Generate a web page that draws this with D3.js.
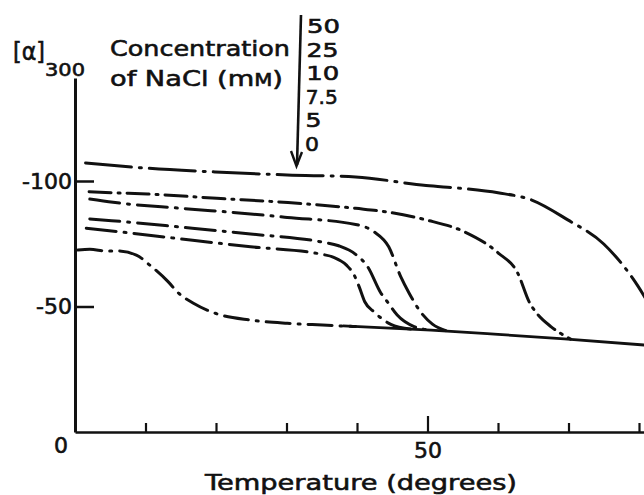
<!DOCTYPE html>
<html>
<head>
<meta charset="utf-8">
<script src="https://cdn.jsdelivr.net/npm/d3@7"></script>
<style>
  body { margin: 0; background: #fff; }
  svg { display: block; }
  text { font-family: "DejaVu Sans", sans-serif; fill: #111; stroke: #111; stroke-width: 0.6px; }
</style>
</head>
<body>
<script>
const w = 644;
const h = 495;

// NaCl concentrations (mM), top curve first
const concLabels = ["50", "25", "10", "7.5", "5", "0"];

// [temperature, [alpha]300]
const c50 = [[1.5, -107.2], [10.2, -105.1], [19.9, -103.6], [30.1, -102.4], [39.8, -101.6],
    [49.8, -98.2], [55.0, -97.0], [60.0, -95.3], [64.8, -92.4], [69.9, -84.5],
    [75.0, -74.9], [79.9, -57.9], [81.5, -50.5]];
const c25 = [[2.0, -95.7], [5.2, -95.3], [10.3, -94.8], [20.1, -93.1], [30.2, -91.4],
    [39.8, -89.1], [44.9, -87.4], [49.8, -84.5], [55.2, -79.8], [60.0, -71.4],
    [62.8, -63.3], [64.5, -51.4], [65.5, -47.3], [67.5, -42.0], [70.3, -37.0]];
const c10 = [[2.1, -92.8], [5.4, -91.5], [15.1, -89.1], [24.9, -86.9], [30.1, -85.5],
    [39.8, -82.7], [42.4, -79.8], [44.5, -73.8], [46.2, -61.9], [47.4, -55.3],
    [49.0, -47.9], [50.7, -43.0], [52.6, -40.4]];
const c7_5 = [[2.1, -84.9], [5.2, -84.2], [15.1, -81.6], [24.9, -78.9], [34.8, -75.8],
    [37.4, -74.2], [39.8, -70.8], [41.5, -65.9], [43.4, -55.3], [44.3, -51.9],
    [45.7, -46.6], [48.1, -42.0], [50.5, -40.6]];
const c5 = [[1.6, -81.2], [5.2, -80.1], [15.1, -76.9], [24.9, -73.8], [34.8, -70.9],
    [36.7, -69.6], [38.5, -66.5], [39.6, -62.5], [40.3, -57.9], [41.1, -51.9],
    [42.4, -47.9], [44.8, -42.9], [47.6, -41.0]];
const c0 = [[0.4, -72.5], [2.1, -72.8], [4.5, -72.1], [6.1, -72.1], [8.7, -70.5],
    [10.6, -66.5], [13.2, -59.9], [14.7, -55.3], [16.8, -51.3], [19.9, -47.3],
    [24.9, -44.6], [30.1, -43.3], [35.1, -42.6], [39.8, -42.0]];
// common solid line the melted forms fall onto
const base = [[38.0, -42.3], [50.5, -40.6], [60.0, -38.9], [69.4, -37.1], [81.5, -34.5]];

const xTicks = [10, 20, 30, 40, 50, 60, 70, 80];
const yTicks = [-100, -50];

const curves = [c50, c25, c10, c7_5, c5, c0];
const dashes = ["46,8,2,8", "22,7,2,7", "30,8,2,8", "30,8,2,8", "30,8,2,8", "24,8,2,8"];

const svg = d3.select("body")
    .append("svg")
    .attr("width", w)
    .attr("height", h)
    ;

const x = d3.scaleLinear()
    .domain([0, 80])
    .range([75, 639])
    ;
const y = d3.scaleLinear()
    .domain([0, -100])
    .range([432, 181])
    ;

function fit(sel, width) {
    sel.attr("textLength", width).attr("lengthAdjust", "spacingAndGlyphs");
}

// y axis, ticks pointing inward
const yAxisScale = y.copy().domain([0, -141]).range([y(0), y(-141)]);
const gy = svg.append("g")
    .attr("transform", "translate(" + x(0) + ",0)")
    .call(d3.axisLeft(yAxisScale).tickValues(yTicks).tickSize(-19).tickSizeOuter(0).tickPadding(3).tickFormat(d => d))
    ;
gy.select(".domain").attr("stroke", "#111").attr("stroke-width", 3);
gy.selectAll(".tick line").attr("stroke", "#111").attr("stroke-width", 2.5);
gy.selectAll(".tick text").attr("font-size", 22).attr("font-family", "DejaVu Sans").attr("fill", "#111");

// x axis
const xAxisScale = x.copy().domain([0, 82]).range([x(0), x(82)]);
const gx = svg.append("g")
    .attr("transform", "translate(0," + y(0) + ")")
    .call(d3.axisBottom(xAxisScale).tickValues(xTicks).tickSize(-9).tickSizeOuter(0).tickPadding(10)
        .tickFormat(d => d === 50 ? "50" : ""))
    ;
gx.select(".domain").attr("stroke", "#111").attr("stroke-width", 2.5);
gx.selectAll(".tick line").attr("stroke", "#111").attr("stroke-width", 2.2)
    .attr("y2", d => d === 50 ? -16 : -9);
gx.selectAll(".tick text").attr("font-size", 22).attr("font-family", "DejaVu Sans").attr("fill", "#111")
    .call(fit, 28);

svg.append("text")
    .attr("x", x(0) - 14)
    .attr("y", 453)
    .attr("text-anchor", "middle")
    .attr("font-size", 22)
    .text("0");

svg.append("text")
    .attr("x", 205)
    .attr("y", 490)
    .attr("font-size", 22)
    .text("Temperature (degrees)")
    .call(fit, 312);

// curves
const line = d3.line()
    .x(d => x(d[0]))
    .y(d => y(d[1]))
    .curve(d3.curveMonotoneX)
    ;

svg.append("g")
    .selectAll("path")
    .data(curves)
    .join("path")
    .attr("d", line)
    .attr("fill", "none")
    .attr("stroke", "#111")
    .attr("stroke-width", 3)
    .attr("stroke-linecap", "round")
    .attr("stroke-dasharray", (d, i) => dashes[i])
    ;

svg.append("path")
    .attr("d", line(base))
    .attr("fill", "none")
    .attr("stroke", "#111")
    .attr("stroke-width", 2.8);

// y label
svg.append("text")
    .attr("x", 13)
    .attr("y", 60)
    .attr("font-size", 25)
    .text("[α]")
    .call(fit, 32);
svg.append("text")
    .attr("x", 45)
    .attr("y", 76)
    .attr("font-size", 18)
    .text("300")
    .call(fit, 40);

// legend heading
svg.append("text")
    .attr("x", 110)
    .attr("y", 56)
    .attr("font-size", 22)
    .text("Concentration")
    .call(fit, 180);
const sub = svg.append("text")
    .attr("x", 110)
    .attr("y", 86)
    .attr("font-size", 22)
    ;
sub.append("tspan").text("of NaCl (m");
sub.append("tspan").attr("font-size", 17).text("M");
sub.append("tspan").text(")");
sub.call(fit, 173);

// arrow with concentration list
const ly = d3.scalePoint()
    .domain(concLabels)
    .range([33, 151])
    ;
svg.append("line")
    .attr("x1", 301).attr("y1", 15)
    .attr("x2", 297).attr("y2", 165)
    .attr("stroke", "#111")
    .attr("stroke-width", 2.6);
svg.append("path")
    .attr("d", "M291,151 L296.5,166 L302,152")
    .attr("fill", "none")
    .attr("stroke", "#111")
    .attr("stroke-width", 2.4);

const widths = { "50": 33, "25": 32, "10": 33, "7.5": 32, "5": 16, "0": 14 };
svg.append("g")
    .selectAll("text")
    .data(concLabels)
    .join("text")
    .attr("x", (d, i) => 307 - i * 0.4)
    .attr("y", d => ly(d))
    .attr("font-size", 20)
    .text(d => d)
    .each(function (d) { d3.select(this).call(fit, widths[d]); })
    ;
</script>
</body>
</html>
